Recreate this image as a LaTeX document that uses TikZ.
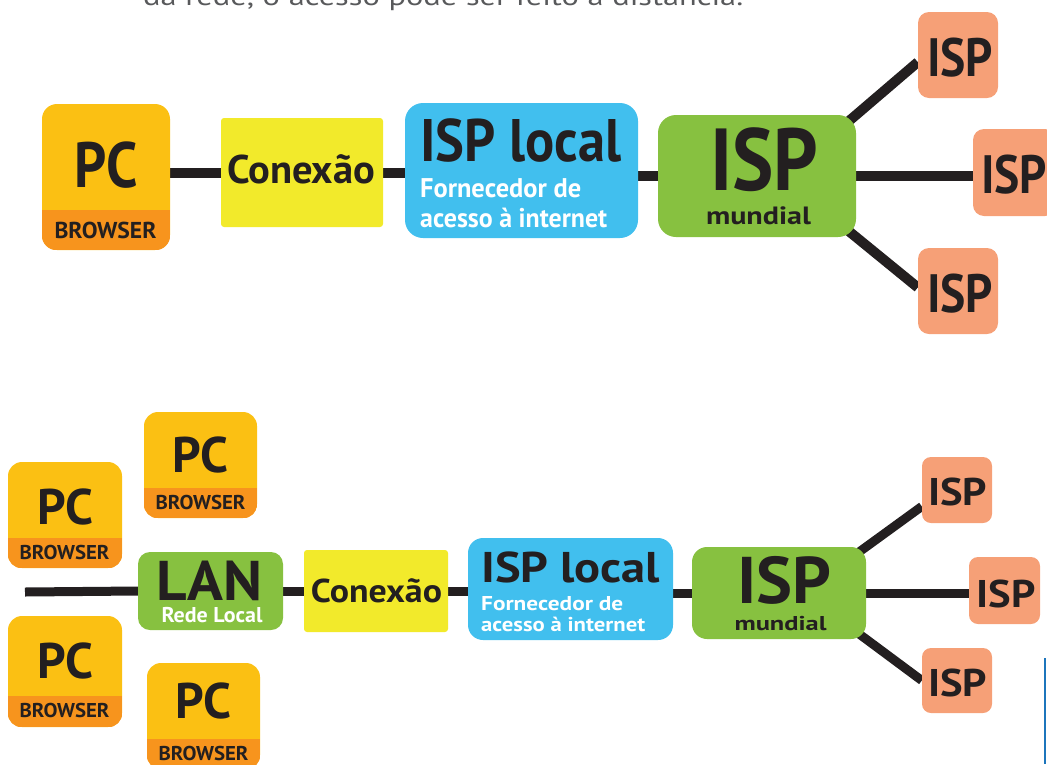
\documentclass[tikz,border=0pt]{standalone}
\usepackage{fontspec}
\setmainfont{PT Sans}
\usetikzlibrary{calc}
\pgfdeclarelayer{bg}
\pgfsetlayers{bg,main}
\definecolor{ink}{HTML}{231F20}
\definecolor{pcy}{HTML}{FBC013}
\definecolor{pcband}{HTML}{F7941D}
\definecolor{cxy}{HTML}{F2EA2B}
\definecolor{ispb}{HTML}{41BFEE}
\definecolor{ispg}{HTML}{87C140}
\definecolor{isps}{HTML}{F6A077}
\definecolor{introgray}{HTML}{58595B}
\definecolor{edgeblue}{HTML}{1C75BC}
\newcommand\mytxt[3]{\resizebox{#1pt}{\height}{\fontsize{#2pt}{#2pt}\selectfont\bfseries #3}}
\newcommand\mybox[6]{\node[#1, minimum width={(#5-#3)*1pt}, minimum height={(#6-#4)*1pt}] (#2) at ({(#3+#5)/2},{-(#4+#6)/2}) {};}
\newcommand\mypc[7]{%
  \node[pcbox, rounded corners=#7pt, minimum width={(#4-#2)*1pt}, minimum height={(#5-#3)*1pt}] (#1) at ({(#2+#4)/2},{-(#3+#5)/2}) {};
  \begin{scope}
    \clip[rounded corners=#7pt] (#1.south west) rectangle (#1.north east);
    \fill[pcband] (#2,-#6) rectangle (#4,-#5);
  \end{scope}}
\tikzset{
  conn/.style={line width=10pt, draw=ink},
  conntwo/.style={line width=9pt, draw=ink},
  pcbox/.style={fill=pcy, draw=none, inner sep=0pt},
  cxbox/.style={fill=cxy, draw=none, rounded corners=3pt, inner sep=0pt},
  blbox/.style={fill=ispb, draw=none, rounded corners=18pt, inner sep=0pt},
  grbox/.style={fill=ispg, draw=none, rounded corners=18pt, inner sep=0pt},
  sabox/.style={fill=isps, draw=none, rounded corners=11pt, inner sep=0pt},
  lbl/.style={inner sep=0pt, anchor=base, text=ink, text depth=0pt},
  wlbl/.style={inner sep=0pt, anchor=base west, text=white, text depth=0pt},
}
\begin{document}
\begin{tikzpicture}[x=1pt,y=1pt]
\useasboundingbox (0,0) rectangle (1047,-764);
\clip (0,0) rectangle (1047,-764);

% cut-off introductory line
\node[inner sep=0pt, anchor=base west, text=introgray] (intro) at (143,-5)
  {\resizebox{600pt}{\height}{\fontsize{26pt}{26pt}\selectfont da rede, o acesso pode ser feito à distância.}};

% ---------- top row ----------
\mypc{pcA}{42}{104}{170}{250}{210}{15}
\mybox{cxbox}{cxA}{221}{118}{383}{227}
\mybox{blbox}{islA}{405}{103}{638}{238}
\mybox{grbox}{mwA}{658}{115}{856}{237}
\mybox{sabox}{iA1}{918}{12}{998}{98}
\mybox{sabox}{iA2}{973}{129}{1056}{216}
\mybox{sabox}{iA3}{918}{248}{998}{334}

\node[lbl] (tpcA) at (106,-187) {\mytxt{63}{64}{PC}};
\node[lbl] (tbrA) at (105.5,-238) {\mytxt{102}{23}{BROWSER}};
\node[lbl] (tcxA) at (301,-183) {\mytxt{148}{40}{Conexão}};
\node[lbl, anchor=base west] (tislA) at (420,-161) {\mytxt{201}{60}{ISP local}};
\node[wlbl] (tfoA) at (420,-197) {\mytxt{161}{27}{Fornecedor de}};
\node[wlbl] (tacA) at (420,-227) {\mytxt{187}{27}{acesso à internet}};
\node[lbl] (tmwA) at (764.5,-190) {\mytxt{108}{88}{ISP}};
\node[lbl] (tmuA) at (758.5,-224) {\mytxt{105}{25}{mundial}};
\node[lbl] (ti1) at (960,-76) {\mytxt{66}{54}{ISP}};
\node[lbl] (ti2) at (1014,-193) {\mytxt{66}{54}{ISP}};
\node[lbl] (ti3) at (960,-312) {\mytxt{66}{54}{ISP}};

% ---------- bottom row ----------
\mypc{pcB1}{144}{412}{257}{518}{488}{14}
\mypc{pcB2}{8}{462}{122}{568}{538}{14}
\mypc{pcB3}{8}{616}{122}{727}{696}{14}
\mypc{pcB4}{147}{663}{260}{769}{739}{14}
\mybox{grbox, rounded corners=12pt}{lan}{138}{552}{283}{630}
\mybox{cxbox}{cxB}{304}{550}{448}{632}
\mybox{blbox, rounded corners=15pt}{islB}{468}{538}{673}{640}
\mybox{grbox, rounded corners=15pt}{mwB}{692}{547}{866}{639}
\mybox{sabox, rounded corners=9pt}{iB1}{922}{457}{992}{523}
\mybox{sabox, rounded corners=9pt}{iB2}{969}{557}{1040}{624}
\mybox{sabox, rounded corners=9pt}{iB3}{922}{648}{992}{713}
\coordinate (lanend) at (25,-592);

\node[lbl] (tpcB1) at (200.5,-472) {\mytxt{56}{50}{PC}};
\node[lbl] (tbrB1) at (200.5,-509) {\mytxt{90}{20}{BROWSER}};
\node[lbl] (tpcB2) at (65,-524) {\mytxt{56}{50}{PC}};
\node[lbl] (tbrB2) at (64.5,-559) {\mytxt{90}{20}{BROWSER}};
\node[lbl] (tpcB3) at (65,-678) {\mytxt{56}{50}{PC}};
\node[lbl] (tbrB3) at (64.5,-717) {\mytxt{90}{20}{BROWSER}};
\node[lbl] (tpcB4) at (203.5,-718) {\mytxt{56}{50}{PC}};
\node[lbl] (tbrB4) at (203.5,-760) {\mytxt{90}{20}{BROWSER}};
\node[lbl] (tlan) at (209,-600) {\mytxt{106}{56}{LAN}};
\node[lbl, text=white] (trede) at (212,-622) {\mytxt{101}{21.4}{Rede Local}};
\node[lbl] (tcxB) at (376.5,-602) {\mytxt{131}{33}{Conexão}};
\node[lbl, anchor=base west] (tislB) at (481,-582) {\mytxt{179}{43}{ISP local}};
\node[wlbl] (tfoB) at (481,-610) {\mytxt{142}{20}{Fornecedor de}};
\node[wlbl] (tacB) at (481,-631) {\mytxt{164}{20}{acesso à internet}};
\node[lbl] (tmwB) at (784,-603) {\mytxt{94}{66}{ISP}};
\node[lbl] (tmuB) at (780.5,-630) {\mytxt{92}{20}{mundial}};
\node[lbl] (tiB1) at (957.5,-505) {\mytxt{59}{38.6}{ISP}};
\node[lbl] (tiB2) at (1006,-607) {\mytxt{59}{38.6}{ISP}};
\node[lbl] (tiB3) at (957.5,-696) {\mytxt{59}{38.6}{ISP}};

% page edge mark
\draw[line width=1.5pt, draw=edgeblue] (1045,-658) -- (1045,-764);

% ---------- connectors ----------
\begin{pgfonlayer}{bg}
\draw[conn] (cxA.west -| pcA.east) -- (cxA.west);
\draw[conn] (cxA.east) -- (cxA.east -| islA.west);
\draw[conn] (mwA.west -| islA.east) -- (mwA.west);
\draw[conn] (mwA.east) -- (mwA.east -| iA2.west);
\draw[conn] ($(mwA.north east)!-20pt!(iA1.190)$) -- (iA1.190);
\draw[conn] ($(mwA.south east)!-20pt!(iA3.175)$) -- (iA3.175);

\draw[conntwo] (lanend) -- (lan.west);
\draw[conntwo] (lan.east) -- (cxB.west);
\draw[conntwo] (cxB.east) -- (cxB.east -| islB.west);
\draw[conntwo] (mwB.west -| islB.east) -- (mwB.west);
\draw[conntwo] (mwB.east) -- (mwB.east -| iB2.west);
\draw[conntwo] ($(mwB.north east)!-20pt!(iB1.205)$) -- (iB1.205);
\draw[conntwo] ($(mwB.south east)!-20pt!(iB3.west)$) -- (iB3.west);
\end{pgfonlayer}
\end{tikzpicture}
\end{document}
